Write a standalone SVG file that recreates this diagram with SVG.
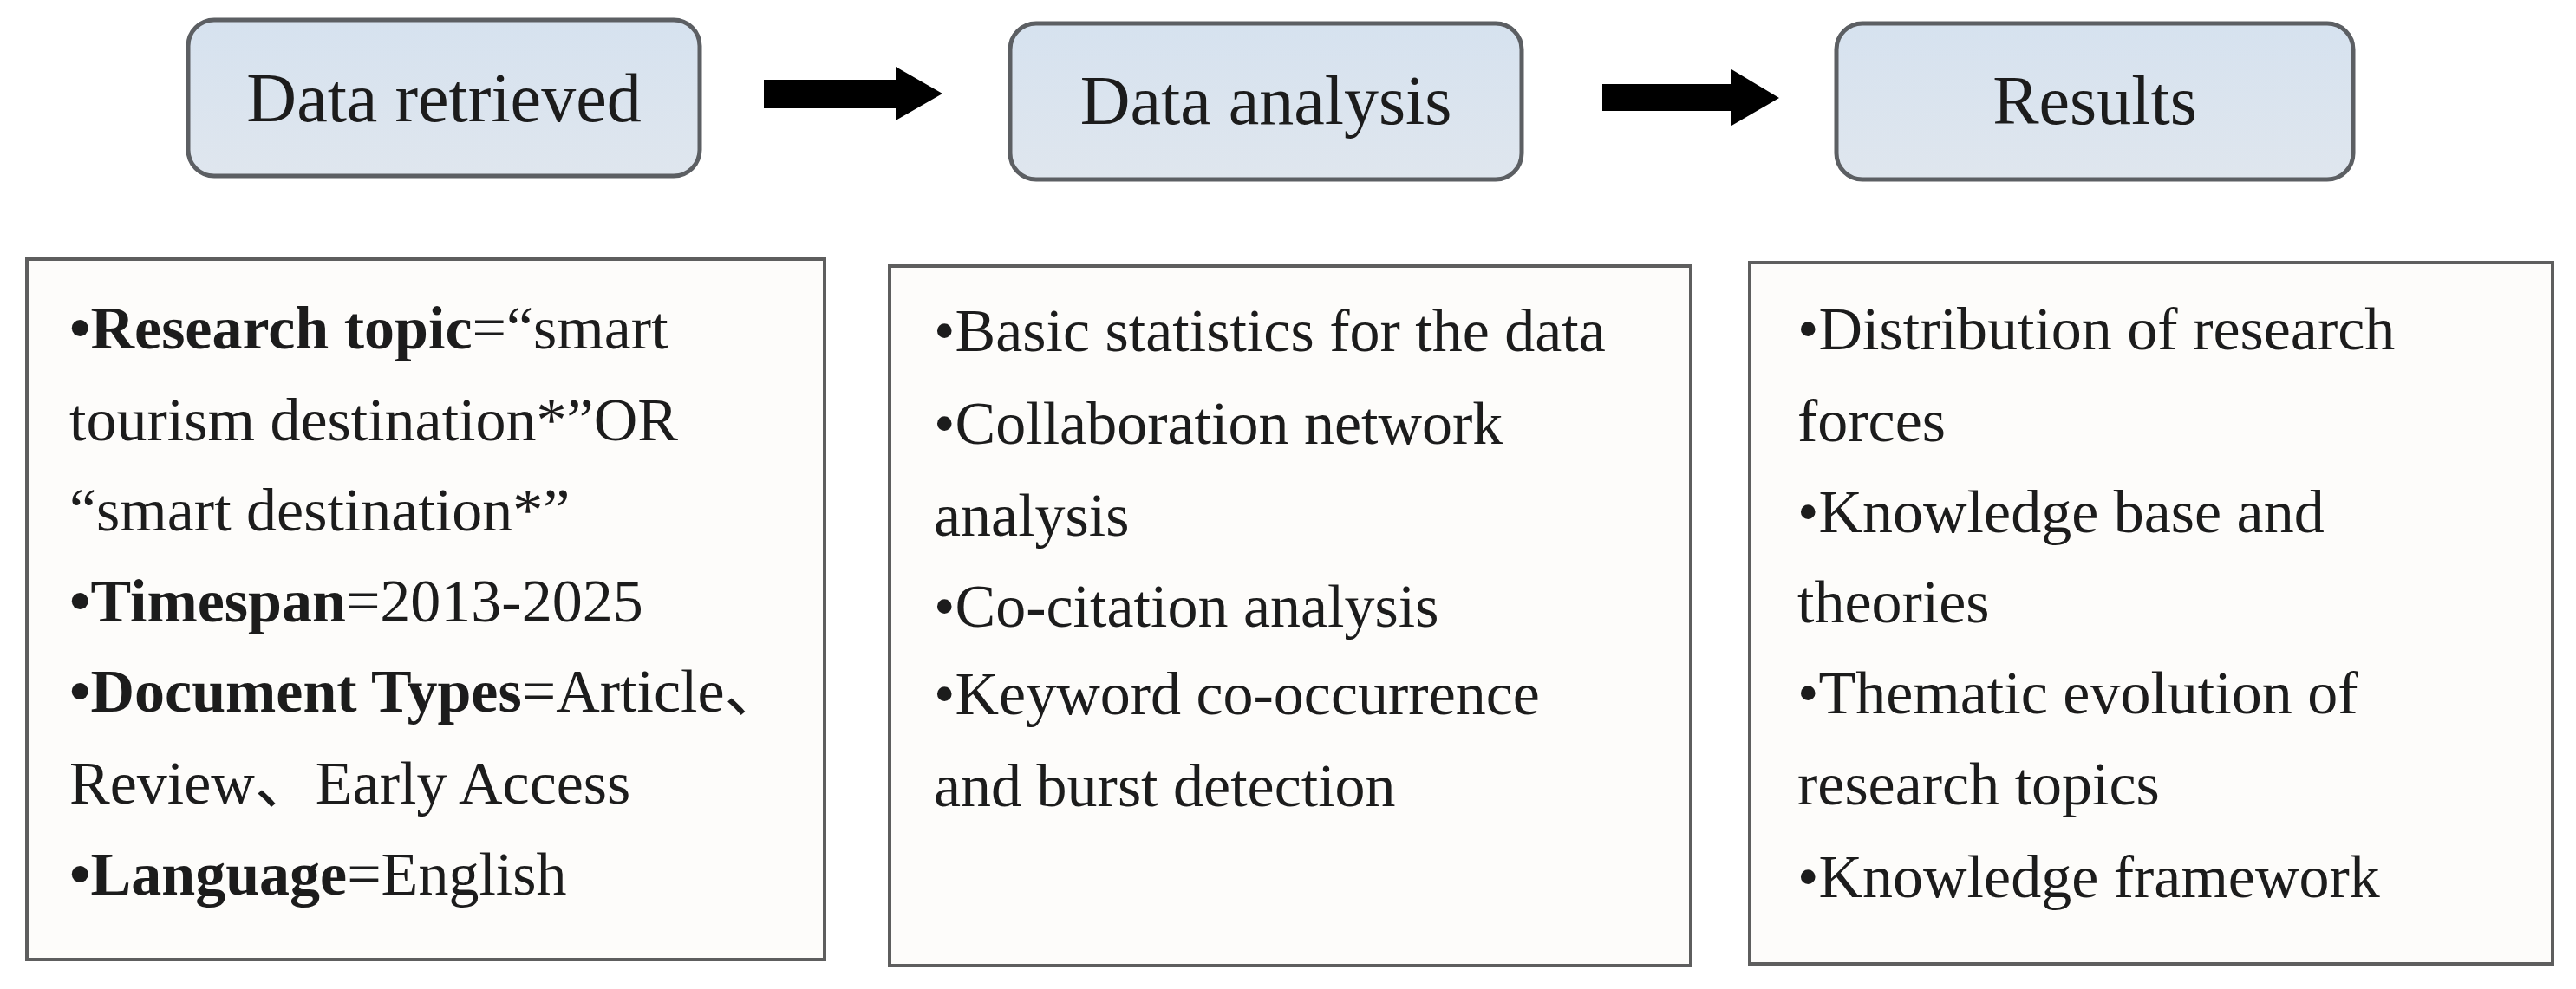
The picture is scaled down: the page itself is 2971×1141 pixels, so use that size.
<svg xmlns="http://www.w3.org/2000/svg" width="2971" height="1141" viewBox="0 0 2971 1141">
  <defs>
    <linearGradient id="headFill" x1="0" y1="0" x2="0" y2="1">
      <stop offset="0" stop-color="#d6e2ef"/>
      <stop offset="1" stop-color="#dfe6ee"/>
    </linearGradient>
  </defs>
  <style>
    .head { fill: url(#headFill); stroke: #5c5f63; stroke-width: 5; }
    .panel { fill: #fdfcfa; stroke: #5e5e5e; stroke-width: 4; }
    .htxt { font-family: "Liberation Serif", "Times New Roman", serif; font-size: 80px; fill: #1c1c1c; text-anchor: middle; }
    .btxt { font-family: "Liberation Serif", "Times New Roman", "Noto Sans CJK SC", serif; font-size: 70px; fill: #1c1c1c; }
    .b { font-weight: bold; }
    .arrow { fill: #000000; }
  </style>
  <rect x="0" y="0" width="2971" height="1141" fill="#ffffff"/>

  <g id="node-data-retrieved">
    <rect class="head" x="217" y="23" width="590" height="180" rx="30" ry="30"/>
    <text class="htxt" x="512" y="140">Data retrieved</text>
  </g>
  <g id="node-data-analysis">
    <rect class="head" x="1165" y="27" width="590" height="180" rx="30" ry="30"/>
    <text class="htxt" x="1460" y="143">Data analysis</text>
  </g>
  <g id="node-results">
    <rect class="head" x="2118" y="27" width="596" height="180" rx="30" ry="30"/>
    <text class="htxt" x="2416" y="143">Results</text>
  </g>

  <g id="connectors">
    <polygon class="arrow" points="881,92 1033,92 1033,77 1087,108 1033,139 1033,125 881,125"/>
    <polygon class="arrow" points="1848,97 1997,97 1997,80 2052,113 1997,145 1997,128 1848,128"/>
  </g>

  <g id="node-retrieval-criteria">
    <rect class="panel" x="31" y="299" width="920" height="808"/>
    <text class="btxt" x="80" y="402"><tspan class="b">•Research topic</tspan>=“smart</text>
    <text class="btxt" x="80" y="508">tourism destination*”OR</text>
    <text class="btxt" x="80" y="612">“smart destination*”</text>
    <text class="btxt" x="80" y="717"><tspan class="b">•Timespan</tspan>=2013-2025</text>
    <text class="btxt" x="80" y="821"><tspan class="b">•Document Types</tspan>=Article、</text>
    <text class="btxt" x="80" y="927">Review、Early Access</text>
    <text class="btxt" x="80" y="1032"><tspan class="b">•Language</tspan>=English</text>
  </g>

  <g id="node-analysis-methods">
    <rect class="panel" x="1026" y="307" width="924" height="807"/>
    <text class="btxt" x="1077" y="405">•Basic statistics for the data</text>
    <text class="btxt" x="1077" y="512">•Collaboration network</text>
    <text class="btxt" x="1077" y="618">analysis</text>
    <text class="btxt" x="1077" y="723">•Co-citation analysis</text>
    <text class="btxt" x="1077" y="824">•Keyword co-occurrence</text>
    <text class="btxt" x="1077" y="930">and burst detection</text>
  </g>

  <g id="node-results-list">
    <rect class="panel" x="2018" y="303" width="926" height="809"/>
    <text class="btxt" x="2073" y="403">•Distribution of research</text>
    <text class="btxt" x="2073" y="509">forces</text>
    <text class="btxt" x="2073" y="614">•Knowledge base and</text>
    <text class="btxt" x="2073" y="718">theories</text>
    <text class="btxt" x="2073" y="823">•Thematic evolution of</text>
    <text class="btxt" x="2073" y="928">research topics</text>
    <text class="btxt" x="2073" y="1035">•Knowledge framework</text>
  </g>
</svg>
